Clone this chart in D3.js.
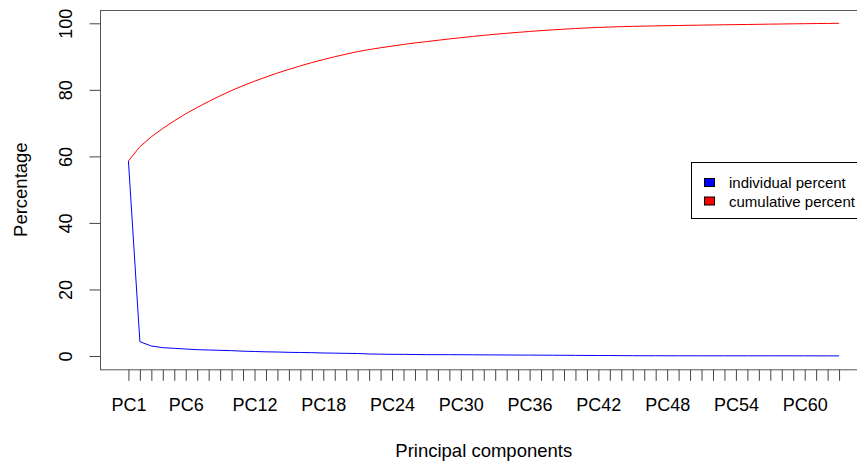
<!DOCTYPE html>
<html>
<head>
<meta charset="utf-8">
<script src="https://cdn.jsdelivr.net/npm/d3@7"></script>
<style>
  html, body { margin: 0; padding: 0; background: #fff; overflow: hidden; }
  svg { display: block; font-family: "Liberation Sans", Arial, sans-serif; }
</style>
</head>
<body>
<svg id="chart" width="857" height="463"></svg>
<script>
// ---- data ----
const components = d3.range(1, 64).map(i => "PC" + i);
const individualPercent = [
  58.6, 4.3, 3.0, 2.5, 2.3, 2.1, 1.9, 1.8, 1.7, 1.6,
  1.45, 1.35, 1.25, 1.2, 1.1, 1.05, 1.0, 0.9, 0.85, 0.8,
  0.75, 0.6, 0.55, 0.5, 0.5, 0.45, 0.4, 0.4, 0.4, 0.38,
  0.36, 0.34, 0.32, 0.3, 0.28, 0.27, 0.25, 0.23, 0.21, 0.19,
  0.17, 0.15, 0.13, 0.11, 0.09, 0.07, 0.07, 0.065, 0.06, 0.06,
  0.055, 0.05, 0.05, 0.045, 0.045, 0.05, 0.05, 0.045, 0.045, 0.045,
  0.04, 0.04, 0.035
];
const cumulativePercent = [
  58.6, 62.9, 65.9, 68.4, 70.7, 72.8, 74.7, 76.5, 78.2, 79.8,
  81.25, 82.6, 83.85, 85.05, 86.15, 87.2, 88.2, 89.1, 89.95, 90.75,
  91.5, 92.1, 92.65, 93.15, 93.65, 94.1, 94.5, 94.9, 95.3, 95.68,
  96.04, 96.38, 96.7, 97.0, 97.28, 97.55, 97.8, 98.03, 98.24, 98.43,
  98.6, 98.75, 98.88, 98.99, 99.08, 99.15, 99.22, 99.285, 99.345, 99.405,
  99.46, 99.51, 99.56, 99.605, 99.65, 99.7, 99.75, 99.795, 99.84, 99.885,
  99.925, 99.965, 100.0
];
const xTickLabels = ["PC1", "PC6", "PC12", "PC18", "PC24", "PC30", "PC36", "PC42", "PC48", "PC54", "PC60"];
const yTicks = [0, 20, 40, 60, 80, 100];
const legendLabels = ["individual percent", "cumulative percent"];
const seriesColors = ["#0000ff", "#ff0000"];

// ---- layout ----
const svg = d3.select("#chart");
const plot = { left: 100, right: 867.5, top: 10, bottom: 369.3 };
const n = components.length;
const padX = (n - 1) * 0.04;
const x = d3.scaleLinear().domain([1 - padX, n + padX]).range([plot.left, plot.right]);
const y = d3.scaleLinear().domain([-4, 104]).range([plot.bottom, plot.top]);

// lines
const line = d3.line().x((d, i) => x(i + 1)).y(d => y(d));
svg.append("path").datum(individualPercent)
  .attr("d", line).attr("fill", "none").attr("stroke", seriesColors[0]).attr("stroke-width", 1);
svg.append("path").datum(cumulativePercent)
  .attr("d", line).attr("fill", "none").attr("stroke", seriesColors[1]).attr("stroke-width", 1);

// plot box
svg.append("rect")
  .attr("x", plot.left + 0.5).attr("y", plot.top + 0.5)
  .attr("width", plot.right - plot.left).attr("height", plot.bottom - plot.top)
  .attr("fill", "none").attr("stroke", "#555").attr("stroke-width", 1);

// x axis
const xAxis = d3.axisBottom(x)
  .tickValues(d3.range(1, n + 1))
  .tickSize(11)
  .tickSizeOuter(0)
  .tickFormat(i => xTickLabels.includes(components[i - 1]) ? components[i - 1] : "");
const gx = svg.append("g").attr("transform", `translate(0,${plot.bottom + 0.5})`).call(xAxis);
gx.select(".domain").remove();
gx.selectAll(".tick line").attr("stroke", "#444");
gx.selectAll(".tick text")
  .attr("y", 41.5).attr("dy", 0)
  .attr("font-size", 18).attr("font-family", "Liberation Sans, Arial, sans-serif").attr("fill", "#000");

// y axis
const yAxis = d3.axisLeft(y).tickValues(yTicks).tickSize(11).tickSizeOuter(0).tickFormat(d3.format("d"));
const gy = svg.append("g").attr("transform", `translate(${plot.left + 0.5},0)`).call(yAxis);
gy.select(".domain").remove();
gy.selectAll(".tick line").attr("stroke", "#444");
gy.selectAll(".tick text")
  .attr("x", null).attr("dy", 0)
  .attr("transform", "translate(-28.5,0) rotate(-90)")
  .attr("text-anchor", "middle")
  .attr("font-size", 18).attr("font-family", "Liberation Sans, Arial, sans-serif").attr("fill", "#000");

// axis titles
svg.append("text")
  .attr("x", (plot.left + plot.right) / 2).attr("y", 457)
  .attr("text-anchor", "middle").attr("font-size", 18.5).attr("fill", "#000")
  .text("Principal components");
svg.append("text")
  .attr("transform", `translate(27,${(plot.top + plot.bottom) / 2}) rotate(-90)`)
  .attr("text-anchor", "middle").attr("font-size", 18.5).attr("fill", "#000")
  .text("Percentage");

// legend
const lg = svg.append("g");
lg.append("rect")
  .attr("x", 691.5).attr("y", 162.5).attr("width", 200).attr("height", 56)
  .attr("fill", "#fff").attr("stroke", "#000").attr("stroke-width", 1);
legendLabels.forEach((lab, i) => {
  const yy = 178 + i * 18.5;
  lg.append("rect")
    .attr("x", 704.5).attr("y", yy + 0.5).attr("width", 10).attr("height", 8)
    .attr("fill", seriesColors[i]).attr("stroke", "#000").attr("stroke-width", 1);
  lg.append("text")
    .attr("x", 729).attr("y", yy + 10)
    .attr("font-size", 15).attr("fill", "#000")
    .text(lab);
});
</script>
</body>
</html>
